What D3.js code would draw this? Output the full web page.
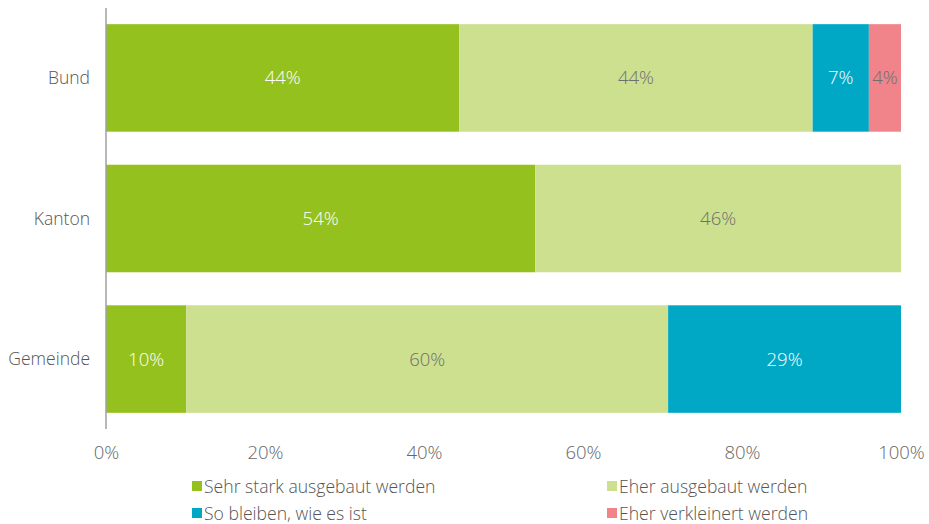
<!DOCTYPE html>
<html>
<head>
<meta charset="utf-8">
<script src="https://cdn.jsdelivr.net/npm/d3@7"></script>
<style>
  body { margin: 0; background: #fff; }
  svg text { font-family: "Open Sans", "Noto Sans", sans-serif; font-weight: 300; }
</style>
</head>
<body>
<svg id="chart"></svg>
<script>
// categories (top to bottom) and answer options
const categories = ["Bund", "Kanton", "Gemeinde"];
const seriesNames = ["Sehr stark ausgebaut werden", "Eher ausgebaut werden", "So bleiben, wie es ist", "Eher verkleinert werden"];

// values in percent, as printed in the bars
const sehrStark = [44, 54, 10];
const eherAusgebaut = [44, 46, 60];
const soBleiben = [7, 0, 29];
const eherVerkleinert = [4, 0, 0];

const tickValues = [0, 0.2, 0.4, 0.6, 0.8, 1];

const colors = ["#95c11f", "#cce090", "#00a8c6", "#f0848a"];
const labelColors = ["#ffffff", "#6f6f6f", "#ffffff", "#6f6f6f"];

const width = 929, height = 524;
const margin = {top: 8, right: 28, bottom: 95, left: 106};

const svg = d3.select("#chart").attr("width", width).attr("height", height);
const g = svg.append("g").attr("transform", "translate(" + margin.left + "," + margin.top + ")");

const innerW = width - margin.left - margin.right;
const innerH = height - margin.top - margin.bottom;

const rows = categories.map((c, i) => ({
    cat: c,
    s0: sehrStark[i], s1: eherAusgebaut[i], s2: soBleiben[i], s3: eherVerkleinert[i]
}));
const keys = ["s0", "s1", "s2", "s3"];

const stacked = d3.stack().keys(keys).offset(d3.stackOffsetExpand)(rows);

const x = d3.scaleLinear().domain([0, 1]).range([0, innerW]);
const y = d3.scaleBand().domain(categories).range([0, innerH]).paddingInner(0.235).paddingOuter(0.115);

// bars
stacked.forEach((layer, li) => {
    const lg = g.append("g");
    lg.selectAll("rect")
        .data(layer.filter(d => d.data[keys[li]] > 0))
        .enter().append("rect")
        .attr("x", d => x(d[0]))
        .attr("y", d => y(d.data.cat))
        .attr("width", d => x(d[1]) - x(d[0]))
        .attr("height", y.bandwidth())
        .attr("fill", colors[li]);

    lg.selectAll("text")
        .data(layer.filter(d => d.data[keys[li]] > 0))
        .enter().append("text")
        .attr("x", d => (x(d[0]) + x(d[1])) / 2)
        .attr("y", d => y(d.data.cat) + y.bandwidth() / 2)
        .attr("dy", "0.35em")
        .attr("text-anchor", "middle")
        .style("font-size", "18.5px")
        .attr("fill", labelColors[li])
        .text(d => d.data[keys[li]] + "%");
});

// y axis line + category labels
g.append("line")
    .attr("x1", 0).attr("x2", 0)
    .attr("y1", 0).attr("y2", innerH)
    .attr("stroke", "#a0a0a0").attr("stroke-width", 1.5);

g.selectAll(".cat")
    .data(categories)
    .enter().append("text")
    .attr("class", "cat")
    .attr("x", -16)
    .attr("y", d => y(d) + y.bandwidth() / 2)
    .attr("dy", "0.35em")
    .attr("text-anchor", "end")
    .style("font-size", "17.5px")
    .attr("fill", "#555")
    .text(d => d);

// x axis (labels only)
const xAxis = d3.axisBottom(x).tickValues(tickValues).tickFormat(d3.format(".0%")).tickSize(0).tickPadding(17);
const xg = g.append("g")
    .attr("transform", "translate(0," + innerH + ")")
    .call(xAxis);
xg.select(".domain").remove();
xg.selectAll("text")
    .style("font-size", "18.5px")
    .attr("fill", "#666");

// legend
const legendPos = [[192, 487], [607, 487], [192, 514], [607, 514]];
const legend = svg.append("g");
seriesNames.forEach((name, i) => {
    const item = legend.append("g").attr("transform", "translate(" + legendPos[i][0] + "," + legendPos[i][1] + ")");
    item.append("rect")
        .attr("x", 0).attr("y", -6)
        .attr("width", 10).attr("height", 10)
        .attr("fill", colors[i]);
    item.append("text")
        .attr("x", 12).attr("y", 0)
        .attr("dy", "0.35em")
        .style("font-size", "17.6px")
        .attr("fill", "#555")
        .text(name);
});
</script>
</body>
</html>
